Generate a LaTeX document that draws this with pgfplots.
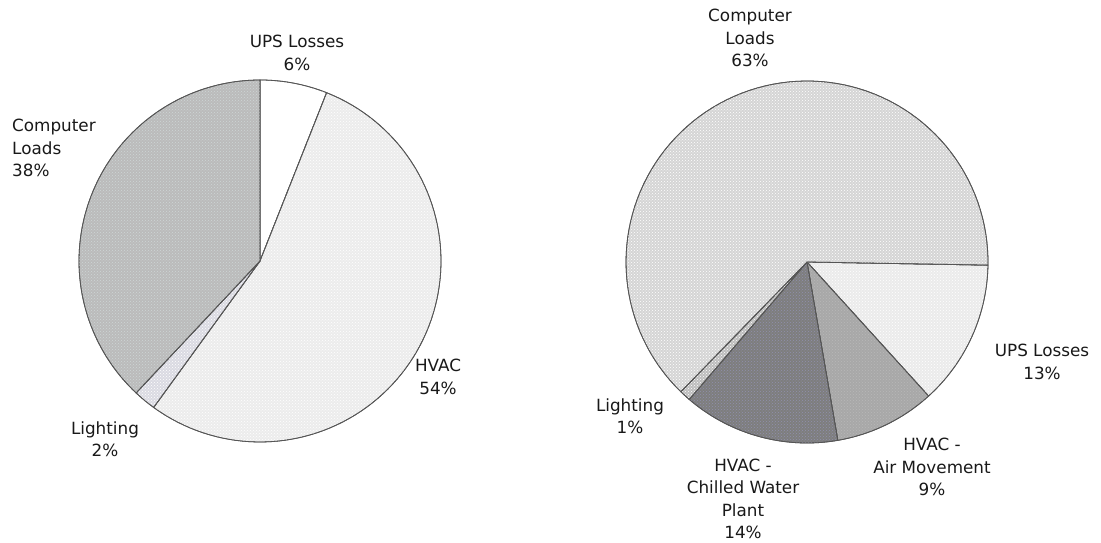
\documentclass[border=0pt]{standalone}
\usepackage{pgfplots}
\pgfplotsset{compat=1.18}
\usepackage{fontspec}
\setmainfont{DejaVu Sans}
\usetikzlibrary{patterns}
\definecolor{lcomp}{HTML}{BBBBBB}
\definecolor{lhvac}{HTML}{ECECEC}
\definecolor{llight}{HTML}{DADAE2}
\definecolor{rcomp}{HTML}{D5D5D5}
\definecolor{rups}{HTML}{EBEBEB}
\definecolor{rair}{HTML}{A8A8A8}
\definecolor{rchill}{HTML}{7E7E7E}
\definecolor{rlight}{HTML}{BDBDBD}
\definecolor{edge}{HTML}{555555}
\tikzset{lbl/.style={font=\fontsize{16.8}{22.5}\selectfont, text=black!90, align=center, inner sep=0pt}}
% cx cy r startangle percent fillcolor patterncolor
\newcommand\pieslice[7]{%
  \addplot[draw=edge, line width=0.8pt, fill=#6,
    postaction={pattern=crosshatch dots, pattern color=#7},
    domain=0:1, samples=90, variable=\t]
    ({#1+#3*cos(#4-3.6*#5*\t)}, {#2+#3*sin(#4-3.6*#5*\t)})
    -- (axis cs:#1,#2) -- cycle;
}
\begin{document}
\begin{tikzpicture}
\begin{axis}[
  width=1101pt, height=543pt, scale only axis,
  xmin=0, xmax=1101, ymin=0, ymax=543,
  hide axis, clip=false,
]
% Left pie: start 90 deg, clockwise
\pieslice{260}{282}{181}{90}{6}{white}{white}
\pieslice{260}{282}{181}{68.4}{54}{lhvac}{white}
\pieslice{260}{282}{181}{-126}{2}{llight}{white}
\pieslice{260}{282}{181}{-133.2}{38}{lcomp}{cyan!10!gray!35}
% Right pie: start -1 deg, clockwise
\pieslice{807}{281}{181}{-1}{13}{rups}{white}
\pieslice{807}{281}{181}{-47.8}{9}{rair}{gray!55}
\pieslice{807}{281}{181}{-80.2}{14}{rchill}{blue!15!gray!75}
\pieslice{807}{281}{181}{-130.6}{1}{rlight}{white}
\pieslice{807}{281}{181}{-134.2}{63}{rcomp}{white}
% Labels left
\node[lbl] at (axis cs:297,490) {UPS Losses\\6\%};
\node[lbl, align=left, anchor=north west] at (axis cs:12,424) {Computer\\Loads\\38\%};
\node[lbl] at (axis cs:105,104) {Lighting\\2\%};
\node[lbl] at (axis cs:438,166) {HVAC\\54\%};
% Labels right
\node[lbl] at (axis cs:750,505) {Computer\\Loads\\63\%};
\node[lbl] at (axis cs:1042,181) {UPS Losses\\13\%};
\node[lbl] at (axis cs:932,76) {HVAC -\\Air Movement\\9\%};
\node[lbl] at (axis cs:743,44) {HVAC -\\Chilled Water\\Plant\\14\%};
\node[lbl] at (axis cs:630,127) {Lighting\\1\%};
\end{axis}
\pgfresetboundingbox
\useasboundingbox (current axis.south west) rectangle (current axis.north east);
\end{tikzpicture}
\end{document}
